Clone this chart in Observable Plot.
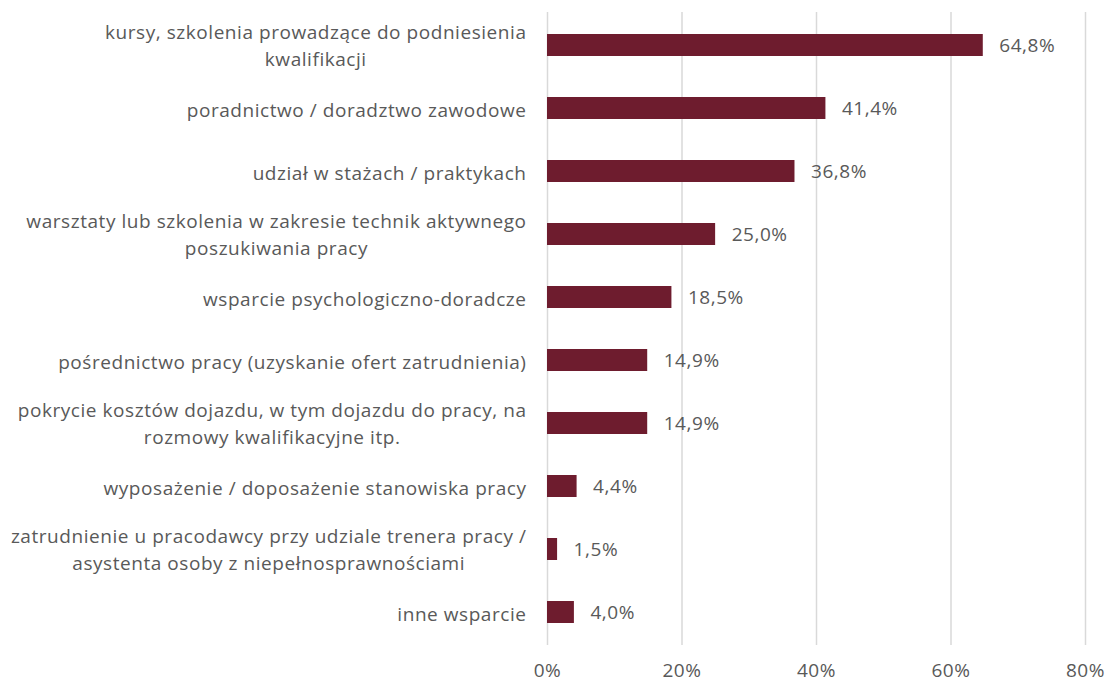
<!DOCTYPE html>
<html>
<head>
<meta charset="utf-8">
<script src="https://cdn.jsdelivr.net/npm/d3@7"></script>
<script src="https://cdn.jsdelivr.net/npm/@observablehq/plot@0.6"></script>
<style>
  html, body { margin: 0; padding: 0; background: #fff; }
  #chart { width: 1108px; height: 684px; }
  #chart svg text { letter-spacing: 0.55px; }
</style>
</head>
<body>
<div id="chart"></div>
<script>
const categories = [
  "kursy, szkolenia prowadzące do podniesienia\nkwalifikacji",
  "poradnictwo / doradztwo zawodowe",
  "udział w stażach / praktykach",
  "warsztaty lub szkolenia w zakresie technik aktywnego\nposzukiwania pracy",
  "wsparcie psychologiczno-doradcze",
  "pośrednictwo pracy (uzyskanie ofert zatrudnienia)",
  "pokrycie kosztów dojazdu, w tym dojazdu do pracy, na\nrozmowy kwalifikacyjne itp.",
  "wyposażenie / doposażenie stanowiska pracy",
  "zatrudnienie u pracodawcy przy udziale trenera pracy /\nasystenta osoby z niepełnosprawnościami",
  "inne wsparcie"
];
const values = [64.8, 41.4, 36.8, 25.0, 18.5, 14.9, 14.9, 4.4, 1.5, 4.0];
const xTicks = [0, 20, 40, 60, 80];

const FONT = "Open Sans, sans-serif";
const FS = 19;
const LS = 0.55;
const ctx = document.createElement("canvas").getContext("2d");
ctx.font = `${FS}px Open Sans`;
const blockWidth = s => Math.max(...s.split("\n").map(l => ctx.measureText(l).width + l.length * LS));

const data = categories.map((c, i) => ({cat: c, key: i, value: values[i], w: blockWidth(c), multi: c.includes("\n")}));

const chart = Plot.plot({
  width: 1108,
  height: 684,
  marginLeft: 547,
  marginRight: 23,
  marginTop: 12,
  marginBottom: 39,
  style: {fontFamily: FONT, fontSize: FS + "px", color: "#595959", background: "#fff"},
  x: {domain: [0, 80], ticks: xTicks, tickFormat: d => d + "%", label: null, tickSize: 0, tickPadding: 18},
  y: {domain: data.map(d => d.key), paddingInner: 0.65, paddingOuter: 0.325, axis: null},
  marks: [
    Plot.ruleX(xTicks, {stroke: "#d9d9d9", strokeWidth: 1.5}),
    Plot.barX(data, {x: "value", y: "key", fill: "#6e1c2e"}),
    Plot.text(data, {x: "value", y: "key", text: d => d.value.toFixed(1).replace(".", ",") + "%",
      textAnchor: "start", dx: 16, fill: "#595959", fontSize: FS}),
    ...data.map(d => Plot.text([d], {x: () => 0, y: "key", text: "cat",
      textAnchor: "middle", lineAnchor: "middle", dx: -(21 + d.w / 2), dy: d.multi ? -2 : 0,
      fill: "#595959", fontSize: FS, lineHeight: 1.45}))
  ]
});
document.getElementById("chart").appendChild(chart);
</script>
</body>
</html>
